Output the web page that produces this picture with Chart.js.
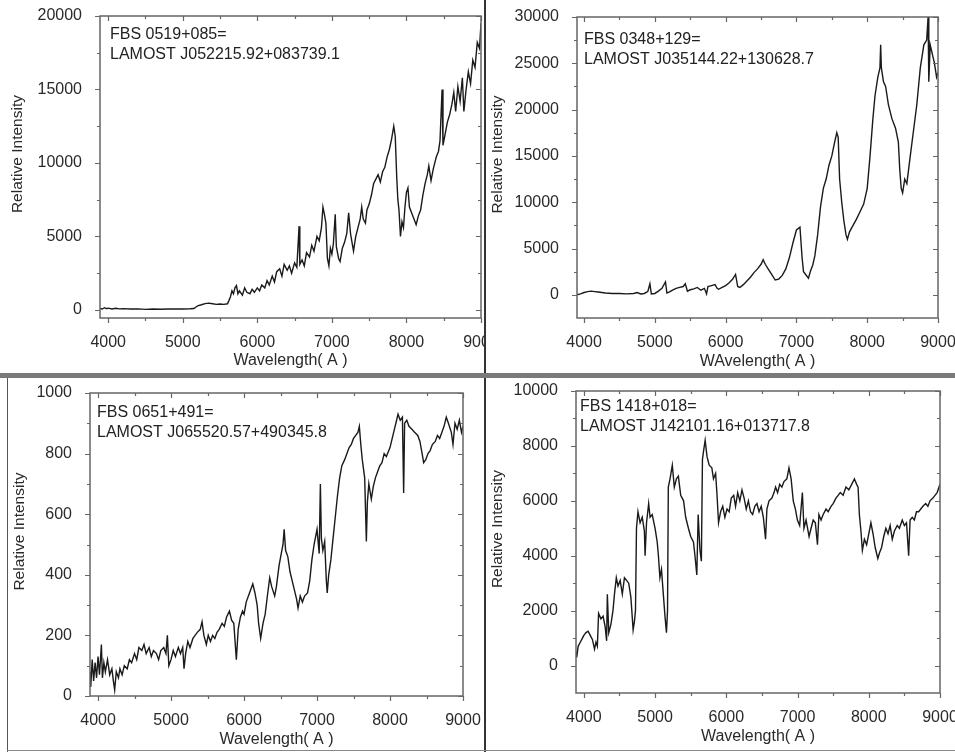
<!DOCTYPE html>
<html>
<head>
<meta charset="utf-8">
<script src="https://cdn.jsdelivr.net/npm/chart.js@4.4.1/dist/chart.umd.min.js"></script>
<style>
  body { margin: 0; background: #fff; width: 955px; height: 752px; position: relative; overflow: hidden; }
  .panel { position: absolute; }
  .line { position: absolute; }
</style>
</head>
<body>
<div class="panel" style="left:0;top:0"><canvas id="c1" width="484" height="373"></canvas></div>
<div class="panel" style="left:486px;top:0"><canvas id="c2" width="469" height="373"></canvas></div>
<div class="panel" style="left:0;top:378px"><canvas id="c3" width="484" height="374"></canvas></div>
<div class="panel" style="left:486px;top:378px"><canvas id="c4" width="469" height="374"></canvas></div>
<div class="line" style="left:484px;top:0;width:2px;height:752px;background:#333"></div>
<div class="line" style="left:0;top:373px;width:955px;height:5px;background:#7a7a7a"></div>
<div class="line" style="left:7px;top:378px;width:1px;height:374px;background:#555"></div>
<div class="line" style="left:7px;top:750px;width:948px;height:1px;background:#888"></div>
<script>
// wavelength (A), relative intensity
const xTicks = [4000, 5000, 6000, 7000, 8000, 9000];
const yTicks1 = [0, 5000, 10000, 15000, 20000];
const yTicks2 = [0, 5000, 10000, 15000, 20000, 25000, 30000];
const yTicks3 = [0, 200, 400, 600, 800, 1000];
const yTicks4 = [0, 2000, 4000, 6000, 8000, 10000];

const names1 = ['FBS 0519+085=', 'LAMOST J052215.92+083739.1'];
const names2 = ['FBS 0348+129=', 'LAMOST J035144.22+130628.7'];
const names3 = ['FBS 0651+491=', 'LAMOST J065520.57+490345.8'];
const names4 = ['FBS 1418+018=', 'LAMOST J142101.16+013717.8'];

const spec1 = [
  [3890,100],[3920,60],[3950,150],[3980,80],[4000,120],[4050,60],[4100,110],[4150,70],[4200,90],
  [4300,60],[4400,70],[4500,40],[4600,60],[4700,50],[4800,60],[4900,70],[5000,60],[5100,80],
  [5150,100],[5200,280],[5250,350],[5300,430],[5350,460],[5400,420],[5450,380],[5500,400],
  [5550,380],[5600,420],[5620,650],[5640,900],[5660,1300],[5680,1100],[5700,1500],[5720,1650],
  [5740,1100],[5760,1300],[5800,1000],[5830,1500],[5860,1200],[5900,1100],[5930,1400],[5960,1200],
  [6000,1500],[6030,1300],[6060,1700],[6100,1500],[6130,2000],[6160,1700],[6200,2300],[6230,1900],
  [6260,2600],[6300,2800],[6330,2300],[6360,3100],[6400,2700],[6430,3000],[6460,2500],[6500,3200],
  [6530,2900],[6560,5700],[6570,3100],[6600,3400],[6630,3000],[6660,3900],[6700,3600],[6730,4400],
  [6760,4000],[6800,5000],[6830,4700],[6860,5600],[6880,7000],[6900,6500],[6920,5900],[6940,3500],
  [6960,3000],[6980,4200],[7000,3800],[7020,4500],[7045,6500],[7060,4300],[7090,3500],[7110,3300],
  [7140,4200],[7170,4600],[7200,5200],[7225,6600],[7250,5200],[7270,4600],[7290,4000],[7320,5000],
  [7350,5600],[7380,6200],[7400,7000],[7420,6200],[7450,5900],[7470,6800],[7500,7200],[7530,7800],
  [7560,8600],[7590,8900],[7620,9200],[7650,8700],[7680,9400],[7710,9700],[7740,10400],[7770,10900],
  [7800,11600],[7830,12500],[7850,11800],[7870,9000],[7885,7500],[7900,6800],[7920,5000],[7940,6000],
  [7960,5600],[7980,7000],[8000,8000],[8020,8300],[8040,7000],[8070,6600],[8100,6200],[8130,5800],
  [8160,6400],[8190,6800],[8220,7800],[8250,8600],[8280,9200],[8300,9800],[8330,8800],[8360,9600],
  [8400,10400],[8430,10800],[8450,11500],[8478,15000],[8490,11200],[8520,12000],[8550,12800],
  [8580,13300],[8610,14000],[8635,14800],[8660,13500],[8690,15200],[8720,14200],[8750,15800],
  [8770,13500],[8800,15000],[8830,16200],[8860,15400],[8890,17000],[8920,16500],[8950,18200],
  [8980,17800],[9000,19500]
];

const spec2 = [
  [3900,0],[3950,100],[4000,250],[4050,350],[4100,400],[4150,350],[4200,300],[4250,250],[4300,200],
  [4400,150],[4500,150],[4600,100],[4700,150],[4750,250],[4800,100],[4850,150],[4900,350],[4930,1200],
  [4950,100],[5000,150],[5050,400],[5100,700],[5150,1400],[5170,200],[5200,300],[5250,500],[5300,700],
  [5350,800],[5400,900],[5430,1200],[5460,400],[5500,550],[5550,650],[5600,800],[5650,500],[5700,700],
  [5730,100],[5750,900],[5800,1000],[5850,1100],[5880,700],[5900,600],[5950,800],[6000,1000],
  [6050,1300],[6100,1700],[6140,2200],[6170,900],[6200,800],[6250,1100],[6300,1500],[6350,1900],
  [6400,2400],[6450,2800],[6500,3300],[6530,3800],[6560,3300],[6600,2800],[6650,2200],[6700,1600],
  [6750,1700],[6800,2100],[6850,2800],[6900,4000],[6950,5600],[7000,7000],[7050,7300],[7080,4000],
  [7100,2500],[7130,2200],[7170,1800],[7200,2600],[7230,3200],[7260,4200],[7300,6500],[7340,9500],
  [7380,11500],[7420,12500],[7460,14000],[7500,15000],[7540,16500],[7570,17500],[7590,17000],
  [7610,12500],[7640,10000],[7670,8000],[7700,6500],[7720,6000],[7750,6800],[7800,7500],[7850,8200],
  [7900,9000],[7950,9800],[8000,11500],[8040,15000],[8080,19000],[8110,21500],[8150,23500],
  [8180,24500],[8190,27000],[8200,24500],[8230,23000],[8260,22500],[8300,20500],[8350,19000],
  [8400,18000],[8440,16500],[8460,13500],[8480,11500],[8500,11000],[8530,12500],[8560,12000],
  [8600,14500],[8650,17500],[8700,20500],[8750,24500],[8800,27000],[8840,27500],[8860,30000],
  [8870,23000],[8890,27000],[8920,26000],[8950,25000],[8980,23500],[9000,24000]
];

const spec3 = [
  [3890,80],[3900,30],[3920,120],[3940,50],[3960,110],[3980,60],[4000,130],[4020,70],[4046,170],
  [4060,60],[4080,110],[4100,80],[4130,120],[4160,70],[4190,90],[4210,50],[4228,20],[4250,80],
  [4280,60],[4300,90],[4330,70],[4360,100],[4400,90],[4430,120],[4460,110],[4500,140],[4530,120],
  [4560,160],[4600,150],[4630,170],[4660,140],[4700,160],[4730,130],[4760,150],[4800,140],[4830,120],
  [4860,150],[4900,160],[4930,140],[4950,200],[4970,100],[5000,120],[5030,150],[5060,130],[5100,160],
  [5130,140],[5160,160],[5178,90],[5200,140],[5230,180],[5260,160],[5300,190],[5330,200],[5360,210],
  [5400,220],[5425,245],[5450,200],[5484,170],[5510,200],[5540,180],[5570,200],[5600,190],[5630,210],
  [5660,220],[5700,240],[5730,230],[5760,260],[5800,280],[5830,250],[5860,240],[5895,120],[5920,220],
  [5950,260],[5980,280],[6000,270],[6030,310],[6060,330],[6090,350],[6120,370],[6150,340],[6180,300],
  [6200,240],[6228,190],[6260,240],[6290,270],[6320,330],[6352,390],[6380,360],[6420,330],[6443,360],
  [6480,430],[6510,470],[6534,500],[6550,550],[6570,480],[6600,460],[6630,410],[6660,380],[6690,350],
  [6720,320],[6740,290],[6770,330],[6800,310],[6830,330],[6870,340],[6900,380],[6930,450],[6960,500],
  [7000,550],[7030,470],[7046,700],[7060,520],[7080,480],[7105,510],[7128,380],[7140,340],[7160,400],
  [7190,450],[7220,520],[7250,590],[7280,660],[7310,720],[7340,760],[7379,780],[7410,800],[7440,820],
  [7470,830],[7500,850],[7530,860],[7560,870],[7580,890],[7600,830],[7620,780],[7653,720],[7676,510],
  [7690,640],[7710,700],[7744,650],[7770,690],[7800,720],[7830,740],[7860,760],[7890,770],[7920,800],
  [7950,790],[8000,820],[8030,850],[8060,880],[8090,910],[8110,930],[8140,910],[8170,920],[8187,670],
  [8200,900],[8230,910],[8260,890],[8300,880],[8340,870],[8380,860],[8410,840],[8440,800],[8461,770],
  [8490,780],[8520,800],[8550,810],[8580,830],[8620,840],[8650,860],[8680,850],[8710,870],[8740,890],
  [8771,920],[8800,900],[8840,870],[8863,830],[8890,900],[8920,880],[8950,910],[8980,870],[9000,890]
];

const spec4 = [
  [3890,500],[3900,300],[3920,700],[3950,850],[3980,1000],[4000,1100],[4030,1200],[4060,1250],
  [4090,1100],[4120,950],[4150,600],[4170,850],[4190,700],[4207,1900],[4240,1700],[4270,1800],
  [4300,1400],[4320,900],[4330,2600],[4350,1200],[4380,1500],[4409,2000],[4430,2600],[4456,3200],
  [4480,2900],[4510,3100],[4540,2600],[4570,3200],[4600,3100],[4630,3000],[4660,2500],[4692,1300],
  [4710,1600],[4725,2000],[4739,5000],[4760,5600],[4790,5200],[4820,5400],[4850,4900],[4860,4000],
  [4880,5200],[4910,5900],[4930,5400],[4960,5500],[5000,5000],[5030,4500],[5047,4000],[5068,3200],
  [5090,3500],[5110,2800],[5139,1800],[5160,1200],[5175,2000],[5186,6500],[5210,6800],[5242,7300],
  [5270,6500],[5300,6800],[5327,6900],[5360,6200],[5400,6000],[5430,5400],[5468,5000],[5500,4700],
  [5539,4500],[5560,4000],[5586,3300],[5605,5500],[5630,4200],[5650,3800],[5665,7500],[5680,7800],
  [5703,8200],[5730,7600],[5760,7300],[5797,7200],[5820,6800],[5850,7000],[5870,6200],[5891,5200],
  [5920,5600],[5950,5800],[5980,5400],[6010,5700],[6040,5600],[6070,6100],[6104,6200],[6130,5800],
  [6160,6300],[6190,6000],[6220,6400],[6250,6100],[6280,5700],[6310,6000],[6340,5600],[6370,5500],
  [6400,5800],[6430,5900],[6460,5600],[6490,5800],[6520,5400],[6551,4600],[6570,5700],[6600,6000],
  [6640,6100],[6670,6300],[6692,6500],[6720,6300],[6750,6600],[6780,6500],[6810,6700],[6850,6800],
  [6880,7200],[6910,6800],[6940,6000],[6970,5700],[6998,5300],[7030,5100],[7068,6300],[7090,5000],
  [7120,5300],[7162,4700],[7190,5000],[7220,5300],[7250,5200],[7280,4400],[7300,5500],[7330,5300],
  [7360,5500],[7400,5700],[7430,5600],[7470,5800],[7500,5900],[7539,6100],[7570,6200],[7600,6300],
  [7640,6200],[7680,6500],[7720,6400],[7760,6600],[7798,6800],[7830,6600],[7850,6500],[7868,5500],
  [7890,4900],[7910,4200],[7939,4600],[7970,4400],[8000,4800],[8030,5200],[8060,4800],[8090,4300],
  [8127,3900],[8150,4100],[8180,4300],[8210,4700],[8240,5000],[8270,4800],[8300,5100],[8330,4600],
  [8360,4900],[8400,5100],[8430,5000],[8470,5300],[8500,5100],[8530,5200],[8560,4000],[8580,5300],
  [8610,5400],[8640,5300],[8670,5600],[8700,5600],[8730,5700],[8760,5800],[8800,5900],[8830,5800],
  [8860,6000],[8900,6100],[8930,6200],[8960,6300],[9000,6600]
];

const textFont = '16px "Liberation Sans", Arial, sans-serif';

// frame, minor ticks, mirrored ticks and the object name
const framePlugin = {
  id: 'frame',
  afterDraw(chart) {
    const { ctx, chartArea: a, scales: { x, y } } = chart;
    const o = chart.options.plugins.frame;
    ctx.save();
    ctx.strokeStyle = '#666';
    ctx.lineWidth = 1.5;
    ctx.strokeRect(a.left, a.top, a.right - a.left, a.bottom - a.top);
    ctx.lineWidth = 1.2;
    ctx.beginPath();
    const xt = o.xTicks, yt = o.yTicks;
    const xs = [], ys = [];
    xt.forEach((v, i) => { xs.push([v, 5]); if (i < xt.length - 1) xs.push([(v + xt[i + 1]) / 2, 3]); });
    yt.forEach((v, i) => { ys.push([v, 5]); if (i < yt.length - 1) ys.push([(v + yt[i + 1]) / 2, 3]); });
    xs.forEach(([v, len]) => {
      const px = Math.round(x.getPixelForValue(v)) + 0.5;
      ctx.moveTo(px, a.bottom); ctx.lineTo(px, a.bottom + len);
      ctx.moveTo(px, a.top); ctx.lineTo(px, a.top + len);
    });
    ys.forEach(([v, len]) => {
      const py = Math.round(y.getPixelForValue(v)) + 0.5;
      ctx.moveTo(a.left, py); ctx.lineTo(a.left - len, py);
      ctx.moveTo(a.right, py); ctx.lineTo(a.right - len, py);
    });
    ctx.stroke();
    ctx.fillStyle = '#222';
    ctx.font = textFont;
    ctx.textBaseline = 'middle';
    ctx.textAlign = 'left';
    ctx.fillText(o.names[0], a.left + o.dx, a.top + o.dy);
    ctx.fillText(o.names[1], a.left + o.dx, a.top + o.dy + 20);
    ctx.restore();
  }
};

function makeChart(id, spec, cfg) {
  const canvas = document.getElementById(id);
  return new Chart(canvas, {
    type: 'line',
    data: {
      datasets: [{
        data: spec.map(p => ({ x: p[0], y: p[1] })),
        borderColor: '#1a1a1a',
        borderWidth: 1.4,
        pointRadius: 0,
        tension: 0
      }]
    },
    options: {
      responsive: false,
      animation: false,
      layout: { padding: { left: 0, top: cfg.top, right: canvas.width - cfg.right, bottom: 0 } },
      plugins: {
        legend: { display: false },
        tooltip: { enabled: false },
        frame: { xTicks: xTicks, yTicks: cfg.yTicks, names: cfg.names, dx: cfg.dx, dy: cfg.dy }
      },
      scales: {
        x: {
          type: 'linear',
          min: cfg.xmin,
          max: 9000,
          grid: { display: false },
          border: { display: false },
          afterBuildTicks: s => { s.ticks = xTicks.map(v => ({ value: v })); },
          afterFit: s => {
            s.height = canvas.height - cfg.bottom;
            s.paddingLeft = 0; s.paddingRight = 0;
          },
          ticks: {
            autoSkip: false, maxRotation: 0, padding: 7,
            color: '#2a2a2a', font: { family: '"Liberation Sans", Arial', size: 16 },
            callback: v => String(v)
          },
          title: {
            display: true, text: cfg.xTitle, color: '#2a2a2a',
            font: { family: '"Liberation Sans", Arial', size: 16 },
            padding: { top: 0, bottom: cfg.xTitlePad }
          }
        },
        y: {
          min: cfg.ymin,
          max: cfg.ymax,
          grid: { display: false },
          border: { display: false },
          afterBuildTicks: s => { s.ticks = cfg.yTicks.map(v => ({ value: v })); },
          afterFit: s => {
            s.width = cfg.left;
            s.paddingTop = 0; s.paddingBottom = 0;
          },
          ticks: {
            autoSkip: false, padding: 10,
            color: '#2a2a2a', font: { family: '"Liberation Sans", Arial', size: 16 },
            callback: v => String(v)
          },
          title: {
            display: true, text: '      Relative Intensity', color: '#2a2a2a',
            font: { family: '"Liberation Sans", Arial', size: 15.5 },
            padding: { top: cfg.yTitlePad, bottom: 0 }
          }
        }
      }
    },
    plugins: [framePlugin]
  });
}

makeChart('c1', spec1, {
  left: 100, top: 16, right: 481, bottom: 318, xmin: 3890, ymin: -550, ymax: 20000,
  yTicks: yTicks1, names: names1, dx: 10, dy: 19, xTitle: 'Wavelength( A )', xTitlePad: 2.4, yTitlePad: 8.7
});
makeChart('c2', spec2, {
  left: 91, top: 17, right: 452, bottom: 318, xmin: 3900, ymin: -2500, ymax: 30000,
  yTicks: yTicks2, names: names2, dx: 7, dy: 23, xTitle: 'WAvelength( A )', xTitlePad: 1.4, yTitlePad: 2.7
});
makeChart('c3', spec3, {
  left: 90, top: 15, right: 463, bottom: 318, xmin: 3890, ymin: 0, ymax: 1000,
  yTicks: yTicks3, names: names3, dx: 7, dy: 20, xTitle: 'Wavelength( A )', xTitlePad: 2.4, yTitlePad: 10.7
});
makeChart('c4', spec4, {
  left: 90, top: 13, right: 454, bottom: 315, xmin: 3890, ymin: -1000, ymax: 10000,
  yTicks: yTicks4, names: names4, dx: 4, dy: 16, xTitle: 'Wavelength( A )', xTitlePad: 5.4, yTitlePad: 2.7
});
</script>
</body>
</html>
